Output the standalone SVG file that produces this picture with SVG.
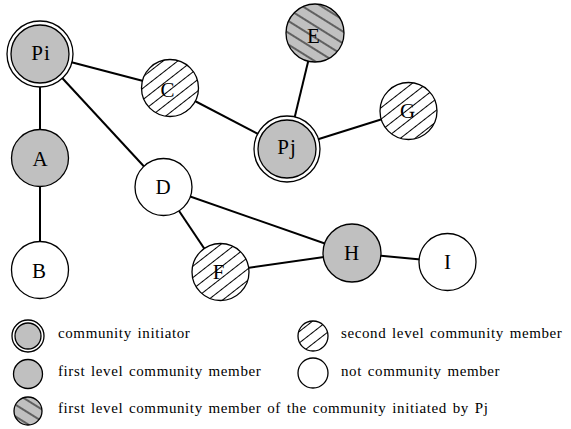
<svg xmlns="http://www.w3.org/2000/svg" width="571" height="429" viewBox="0 0 571 429">
<defs>
<pattern id="h2" patternUnits="userSpaceOnUse" width="9" height="9" patternTransform="rotate(-38)">
<rect width="9" height="9" fill="#fff"/>
<line x1="0" y1="4.5" x2="9" y2="4.5" stroke="#000" stroke-width="1"/>
</pattern>
<pattern id="h1" patternUnits="userSpaceOnUse" width="10" height="10" patternTransform="rotate(32)">
<rect width="10" height="10" fill="#c0c0c0"/>
<line x1="0" y1="5" x2="10" y2="5" stroke="#000" stroke-width="1"/>
</pattern>
</defs>
<style>
.e{stroke:#000;stroke-width:2;fill:none}
.n{stroke:#000;stroke-width:1.3}
.w{fill:#fff}
.g{fill:#c0c0c0}
.s{fill:url(#h2)}
.p{fill:url(#h1)}
.t{font-family:"Liberation Serif","Times New Roman",serif;font-size:21px;fill:#000;text-anchor:middle}
.l{font-family:"Liberation Serif","Times New Roman",serif;font-size:15px;fill:#000;letter-spacing:0.6px;word-spacing:1.5px}
</style>
<rect width="571" height="429" fill="#fff"/>
<g id="edges">
<line class="e" x1="40" y1="54" x2="170" y2="88"/>
<line class="e" x1="40" y1="54" x2="40" y2="158"/>
<line class="e" x1="40" y1="54" x2="163" y2="187"/>
<line class="e" x1="40" y1="158" x2="40" y2="270"/>
<line class="e" x1="170" y1="88" x2="287" y2="149"/>
<line class="e" x1="315" y1="33" x2="287" y2="149"/>
<line class="e" x1="287" y1="149" x2="408" y2="111"/>
<line class="e" x1="163" y1="187" x2="352" y2="253"/>
<line class="e" x1="163" y1="187" x2="220" y2="272"/>
<line class="e" x1="220" y1="272" x2="352" y2="253"/>
<line class="e" x1="352" y1="253" x2="447" y2="262"/>
</g>
<g id="Pi"><circle class="n w" cx="40" cy="54" r="33"/><circle class="n g" cx="40" cy="54" r="29"/><text class="t" x="41" y="60" letter-spacing="1">Pi</text></g>
<g id="C"><circle class="n s" cx="170" cy="88" r="28.5"/><text class="t" x="167.5" y="97">C</text></g>
<g id="A"><circle class="n g" cx="40" cy="158" r="28.5"/><text class="t" x="40" y="166">A</text></g>
<g id="B"><circle class="n w" cx="40" cy="270" r="28.5"/><text class="t" x="39" y="278">B</text></g>
<g id="D"><circle class="n w" cx="163.5" cy="187" r="28.5"/><text class="t" x="163" y="194">D</text></g>
<g id="E"><circle class="n p" cx="315" cy="33" r="29"/><text class="t" x="313.5" y="43">E</text></g>
<g id="Pj"><circle class="n w" cx="287" cy="149" r="33"/><circle class="n g" cx="287" cy="149" r="29"/><text class="t" x="287" y="154" letter-spacing="1">Pj</text></g>
<g id="G"><circle class="n s" cx="408.5" cy="111" r="28.5"/><text class="t" x="407.5" y="118">G</text></g>
<g id="F"><circle class="n s" cx="220.5" cy="272" r="28.5"/><text class="t" x="218.5" y="279">F</text></g>
<g id="H"><circle class="n g" cx="352" cy="253" r="29"/><text class="t" x="351.5" y="260">H</text></g>
<g id="I"><circle class="n w" cx="447.5" cy="262" r="28.5"/><text class="t" x="447.5" y="269">I</text></g>
<g id="legend">
<circle class="n w" cx="28" cy="336" r="16"/><circle class="n g" cx="28" cy="336" r="13"/>
<text class="l" x="58" y="338">community initiator</text>
<circle class="n g" cx="28" cy="374" r="14.5"/>
<text class="l" x="58" y="376">first level community member</text>
<circle class="n p" cx="28" cy="411" r="14"/>
<text class="l" x="58" y="413">first level community member of the community initiated by Pj</text>
<circle class="n s" cx="313" cy="336" r="15"/>
<text class="l" x="341" y="338">second level community member</text>
<circle class="n w" cx="313" cy="373" r="15"/>
<text class="l" x="341" y="376">not community member</text>
</g>
</svg>
